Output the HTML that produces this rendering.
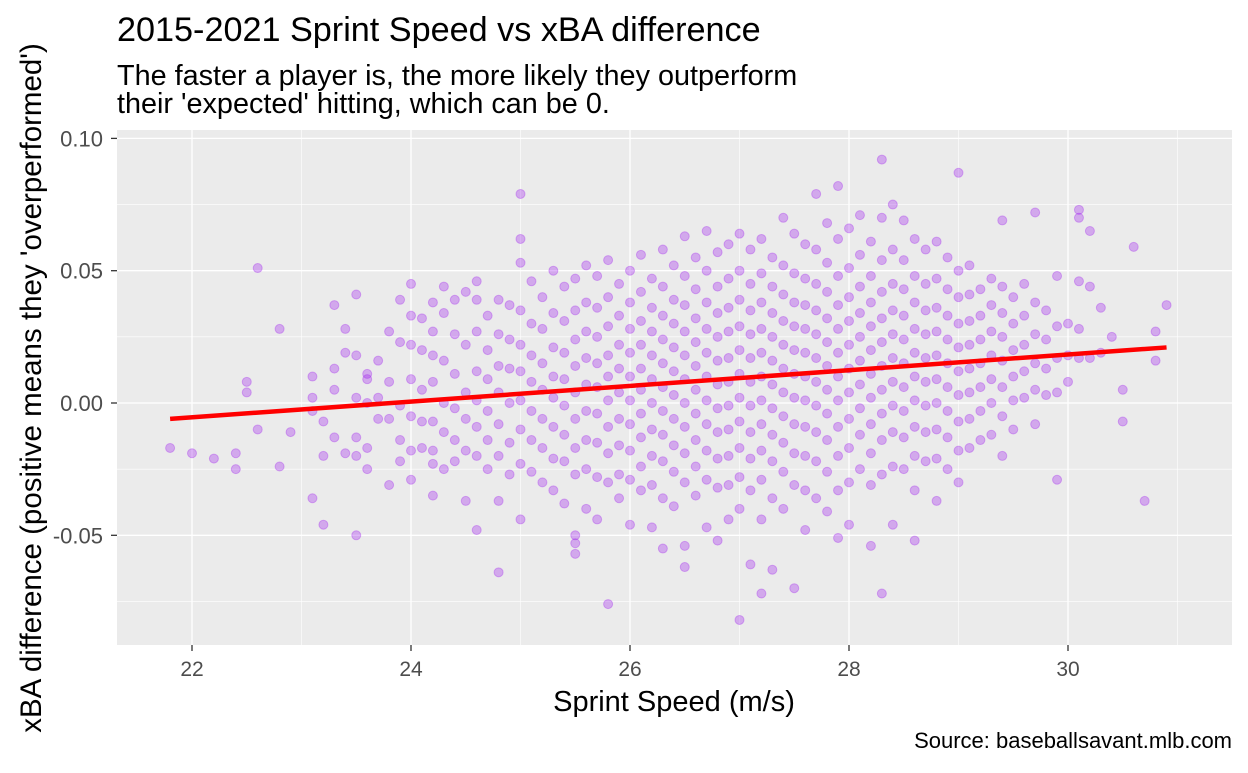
<!DOCTYPE html>
<html><head><meta charset="utf-8"><style>
body{margin:0;background:#fff;font-family:"Liberation Sans",Arial,sans-serif}
svg text{font-family:"Liberation Sans",Arial,sans-serif}
</style></head><body>
<svg id="chart" width="1248" height="768" viewBox="0 0 1248 768">
<text x="117" y="41" font-size="34.2" fill="#000">2015-2021 Sprint Speed vs xBA difference</text>
<text x="117" y="85" font-size="28.8" fill="#000">The faster a player is, the more likely they outperform</text>
<text x="117" y="113" font-size="28.8" fill="#000">their 'expected' hitting, which can be 0.</text>
<rect x="117" y="130" width="1115" height="515" fill="#ebebeb"/>
<g id="grid"></g><g id="pts"></g><g id="fit"></g><g id="axes"></g>
<text x="674" y="711" font-size="29" text-anchor="middle">Sprint Speed (m/s)</text>
<text transform="translate(41,388) rotate(-90)" font-size="29.5" text-anchor="middle">xBA difference (positive means they 'overperformed')</text>
<text x="1232" y="748" font-size="22" text-anchor="end">Source: baseballsavant.mlb.com</text>
</svg>
<script>
const xTicks=[22,24,26,28,30];
const xMinor=[21,23,25,27,29,31];
const yTicks=[0.10,0.05,0.00,-0.05];
const yTickLabels=["0.10","0.05","0.00","-0.05"];
const yMinor=[0.075,0.025,-0.025,-0.075];
const fitStart=[21.8,-0.006];
const fitEnd=[30.9,0.021];
const sprintSpeed=[21.8,22.0,22.2,22.4,22.5,22.6,22.8,22.9,23.1,23.2,23.3,23.4,23.5,23.6,23.7,23.8,23.9,24.0,24.1,24.2,24.3,24.4,24.5,24.6,24.7,24.8,24.9,25.0,25.1,25.2,25.3,25.4,25.5,25.6,25.7,25.8,25.9,26.0,26.1,26.2,26.3,26.4,26.5,26.6,26.7,26.8,26.9,27.0,27.1,27.2,27.3,27.4,27.5,27.6,27.7,27.8,27.9,28.0,28.1,28.2,28.3,28.4,28.5,28.6,28.7,28.8,28.9,29.0,29.1,29.2,29.3,29.4,29.5,29.6,29.7,29.8,29.9,30.0,30.1,30.2,30.3,30.4,30.5,30.6,30.7,30.8,30.9];
const xbaMilli=[[-17],[-19],[-21],[-19,-25],[8,4],[51,-10],[28,-24],[-11],[10,2,-3,-36],[-7,-20,-46],[37,13,5,-13],[28,19,-19],[41,18,2,-13,-20,-50],[11,9,0,-17,-25],[16,2,-6],[27,8,-6,-31],[39,23,-1,-14,-22],[45,33,22,9,-5,-18,-29],[32,20,5,-7,-17],[38,27,18,8,-7,-18,-23,-35],[44,34,16,0,-11,-25],[39,26,11,-2,-14,-22],[42,22,4,-6,-18,-37],[46,39,27,12,1,-9,-20,-48],[33,20,9,-3,-14,-25],[39,26,14,4,-8,-20,-37,-64],[37,24,13,0,-15,-27],[79,62,53,35,22,12,1,-10,-23,-44],[46,30,18,8,-3,-14,-26],[40,28,15,5,-6,-17,-30],[50,34,21,10,2,-9,-21,-33],[44,31,19,9,-1,-12,-22,-38],[47,35,24,14,4,-6,-17,-27,-50,-53,-57],[52,38,27,17,7,-3,-14,-25,-40],[48,36,25,15,6,-4,-15,-28,-44],[54,40,29,18,10,1,-9,-19,-30,-76],[45,33,22,13,4,-6,-16,-27,-36],[50,38,28,19,10,1,-8,-18,-29,-46],[56,42,31,22,13,5,-4,-13,-24,-33],[47,36,27,18,9,0,-10,-20,-31,-47],[58,44,33,24,15,6,-3,-12,-22,-36,-55],[52,39,30,21,12,3,-6,-16,-26,-39],[63,48,37,27,18,9,0,-9,-19,-30,-54,-62],[55,43,32,23,14,5,-4,-14,-24,-35],[65,50,38,28,19,10,1,-8,-18,-29,-47],[57,44,34,25,16,7,-2,-11,-21,-32,-52],[60,47,36,27,17,8,-1,-10,-20,-31,-44],[64,50,39,29,20,11,2,-7,-17,-28,-40,-82],[58,45,35,26,17,8,-1,-11,-21,-33,-61],[62,49,38,28,19,10,1,-8,-18,-29,-44,-72],[55,44,34,25,16,7,-2,-12,-22,-36,-63],[70,52,41,31,22,13,4,-5,-15,-26,-40],[64,49,38,29,20,11,2,-8,-19,-31,-70],[60,47,37,28,19,10,1,-9,-20,-33,-48],[79,58,45,35,26,17,8,-1,-11,-22,-36],[68,53,42,32,23,14,5,-4,-14,-26,-41],[82,62,48,37,28,19,10,1,-9,-20,-33,-51],[66,51,40,31,22,13,4,-6,-17,-30,-46],[71,56,44,34,25,16,7,-2,-12,-25],[61,48,38,29,20,11,2,-8,-19,-31,-54],[92,70,54,42,32,23,14,5,-4,-14,-27,-72],[75,58,45,35,26,17,8,-1,-11,-24,-46],[69,54,43,33,24,15,6,-3,-13,-25],[62,48,38,28,19,10,1,-9,-20,-33,-52],[58,45,35,26,17,8,-1,-11,-22],[61,47,36,27,18,9,0,-10,-21,-37],[55,43,33,24,15,6,-3,-13,-25],[87,50,40,30,21,12,3,-7,-18,-30],[52,41,31,22,13,4,-6,-17],[43,33,24,15,6,-3,-14],[47,37,27,18,9,0,-12],[69,44,34,25,16,6,-5,-20],[40,30,20,10,1,-10],[45,33,22,12,2],[72,38,26,15,5,-8],[35,24,13,3],[48,29,17,4,-29],[30,18,8],[73,70,46,28,17],[65,44,17],[36,19],[25],[5,-7],[59],[-37],[16,27],[37]];
const NS="http://www.w3.org/2000/svg";
const X0=117,X1=1232,Y0=130,Y1=645;
function sx(v){return 192+(v-22)*109.5;}
function sy(v){return 403-v*2646;}
function mk(tag,attrs,parent){const e=document.createElementNS(NS,tag);for(const k in attrs)e.setAttribute(k,attrs[k]);parent.appendChild(e);return e;}
const grid=document.getElementById('grid'),axes=document.getElementById('axes'),pts=document.getElementById('pts'),fit=document.getElementById('fit');
xMinor.forEach(v=>{const x=sx(v);if(x<X0||x>X1)return;const l=mk('line',{x1:x,x2:x,y1:Y0,y2:Y1,stroke:'#fff','stroke-width':0.6},grid);

});
yMinor.forEach(v=>{const y=sy(v);if(y<Y0||y>Y1)return;const l=mk('line',{x1:X0,x2:X1,y1:y,y2:y,stroke:'#fff','stroke-width':0.6},grid);

});
xTicks.forEach(v=>{const x=sx(v);const l=mk('line',{x1:x,x2:x,y1:Y0,y2:Y1,stroke:'#fff','stroke-width':1.3},grid);


const t=mk('line',{x1:x,x2:x,y1:Y1,y2:Y1+6,stroke:'#333','stroke-width':1.3},axes);


const tx=mk('text',{x:x,y:676,'font-size':21,'text-anchor':'middle',fill:'#4d4d4d'},axes);tx.textContent=v;

});
yTicks.forEach((v,i)=>{const y=sy(v);const l=mk('line',{x1:X0,x2:X1,y1:y,y2:y,stroke:'#fff','stroke-width':1.3},grid);


const t=mk('line',{x1:X0-6,x2:X0,y1:y,y2:y,stroke:'#333','stroke-width':1.3},axes);


const tx=mk('text',{x:X0-14,y:y+8,'font-size':22,'text-anchor':'end',fill:'#4d4d4d'},axes);tx.textContent=yTickLabels[i];

});
sprintSpeed.forEach((s,i)=>{xbaMilli[i].forEach(m=>{const c=mk('circle',{cx:sx(s),cy:sy(m/1000),r:4.5,fill:'#a020f0','fill-opacity':0.33,stroke:'#a020f0','stroke-opacity':0.33,'stroke-width':1},pts);

});});
const fl=mk('line',{x1:sx(fitStart[0]),y1:sy(fitStart[1]),x2:sx(fitEnd[0]),y2:sy(fitEnd[1]),stroke:'#ff0000','stroke-width':4.5},fit);


</script>
</body></html>
